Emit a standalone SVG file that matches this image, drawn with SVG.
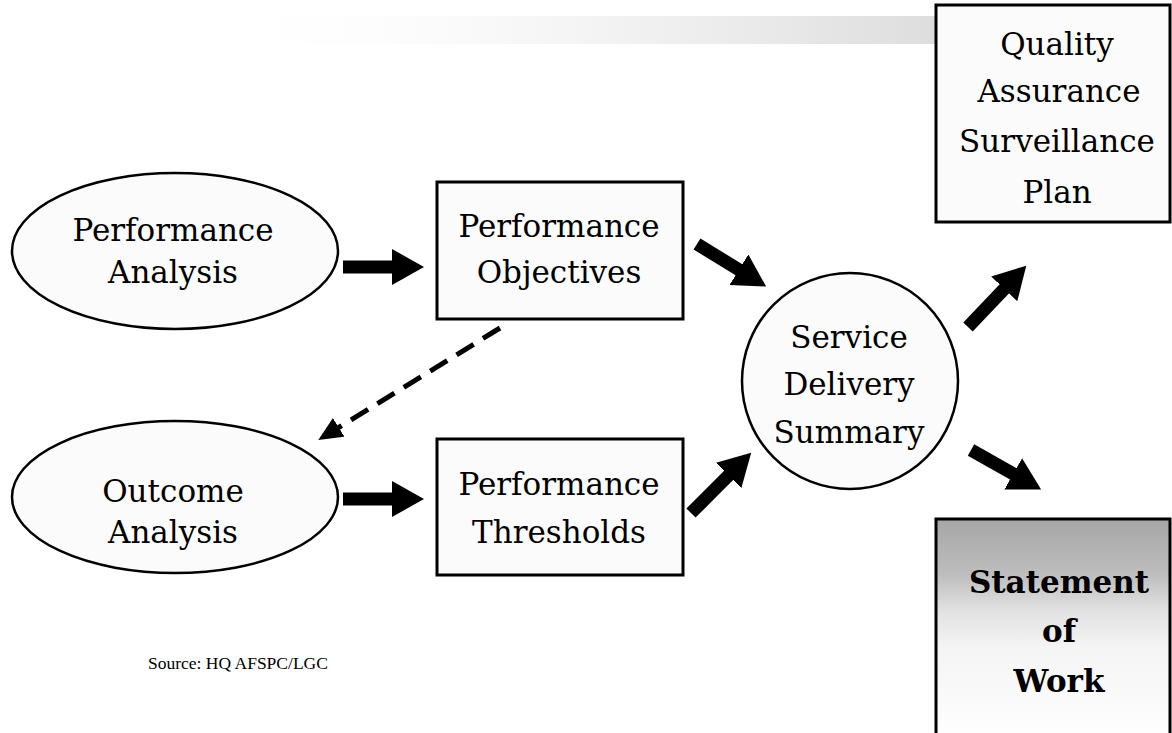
<svg xmlns="http://www.w3.org/2000/svg" width="1172" height="733" viewBox="0 0 1172 733">
  <style>
    .lbl { font-family: "DejaVu Serif", "Liberation Serif", serif; font-size: 31px; fill: #000; text-anchor: middle; }
    .bold { font-weight: bold; }
    .shape { stroke: #000; stroke-width: 2.5; fill: #fbfbfb; }
    .box { stroke: #000; stroke-width: 3; fill: #fbfbfb; }
    .arrow { stroke: #000; stroke-width: 13; fill: none; marker-end: url(#head); }
    .dash { stroke: #000; stroke-width: 5; fill: none; stroke-dasharray: 20 11; marker-end: url(#smallhead); }
    .src { font-family: "Liberation Serif", serif; font-size: 17.5px; fill: #000; }
  </style>
  <defs>
    <marker id="head" markerUnits="userSpaceOnUse" markerWidth="34" markerHeight="38" refX="2" refY="18" orient="auto">
      <path d="M0,0 L32,18 L0,36 z" fill="#000"/>
    </marker>
    <marker id="smallhead" markerUnits="userSpaceOnUse" markerWidth="26" markerHeight="24" refX="2" refY="11" orient="auto">
      <path d="M0,0 L24,11 L0,22 z" fill="#000"/>
    </marker>
    <linearGradient id="sowFill" x1="0" y1="0" x2="0" y2="1">
      <stop offset="0" stop-color="#a6a6a6"/>
      <stop offset="0.25" stop-color="#bdbdbd"/>
      <stop offset="0.42" stop-color="#e2e2e2"/>
      <stop offset="0.58" stop-color="#f4f4f4"/>
      <stop offset="1" stop-color="#ffffff"/>
    </linearGradient>
    <linearGradient id="streak" x1="0" y1="0" x2="1" y2="0">
      <stop offset="0" stop-color="#ffffff" stop-opacity="0"/>
      <stop offset="0.5" stop-color="#eeeeee" stop-opacity="0.6"/>
      <stop offset="1" stop-color="#cfcfcf" stop-opacity="0.7"/>
    </linearGradient>
  </defs>

  <rect width="1172" height="733" fill="#ffffff"/>
  <rect x="200" y="16" width="736" height="28" fill="url(#streak)"/>

  <g id="connectors">
    <line class="arrow" x1="343" y1="267" x2="394" y2="267"/>
    <line class="arrow" x1="343" y1="499" x2="394" y2="499"/>
    <line class="arrow" x1="697" y1="244" x2="740.6" y2="270.8"/>
    <line class="arrow" x1="691" y1="513" x2="730" y2="474"/>
    <line class="arrow" x1="968" y1="327" x2="1005.6" y2="287.4"/>
    <line class="arrow" x1="971" y1="450" x2="1015" y2="474.8"/>
    <line class="dash" x1="500" y1="328" x2="337" y2="428.5"/>
  </g>

  <g id="performance-analysis">
    <ellipse class="shape" cx="175" cy="251" rx="163" ry="78"/>
    <text class="lbl" x="173" y="241">Performance</text>
    <text class="lbl" x="173" y="283">Analysis</text>
  </g>

  <g id="outcome-analysis">
    <ellipse class="shape" cx="175" cy="497" rx="163" ry="76"/>
    <text class="lbl" x="173" y="502">Outcome</text>
    <text class="lbl" x="173" y="543">Analysis</text>
  </g>

  <g id="performance-objectives">
    <rect class="box" x="437" y="182" width="246" height="137"/>
    <text class="lbl" x="559" y="237">Performance</text>
    <text class="lbl" x="559" y="283">Objectives</text>
  </g>

  <g id="performance-thresholds">
    <rect class="box" x="437" y="439" width="246" height="136"/>
    <text class="lbl" x="559" y="495">Performance</text>
    <text class="lbl" x="559" y="543">Thresholds</text>
  </g>

  <g id="service-delivery-summary">
    <circle class="shape" cx="850" cy="381" r="108"/>
    <text class="lbl" x="849" y="348">Service</text>
    <text class="lbl" x="849" y="395">Delivery</text>
    <text class="lbl" x="849" y="443">Summary</text>
  </g>

  <g id="qasp">
    <rect class="box" x="936" y="5" width="234" height="217"/>
    <text class="lbl" x="1057" y="55">Quality</text>
    <text class="lbl" x="1059" y="102">Assurance</text>
    <text class="lbl" x="1057" y="152">Surveillance</text>
    <text class="lbl" x="1057" y="203">Plan</text>
  </g>

  <g id="statement-of-work">
    <rect x="936" y="519" width="234" height="220" fill="url(#sowFill)" stroke="#000" stroke-width="3"/>
    <text class="lbl bold" x="1059" y="593">Statement</text>
    <text class="lbl bold" x="1059" y="642">of</text>
    <text class="lbl bold" x="1059" y="692">Work</text>
  </g>

  <g id="source">
    <text class="src" x="148" y="669">Source: HQ AFSPC/LGC</text>
  </g>
</svg>
